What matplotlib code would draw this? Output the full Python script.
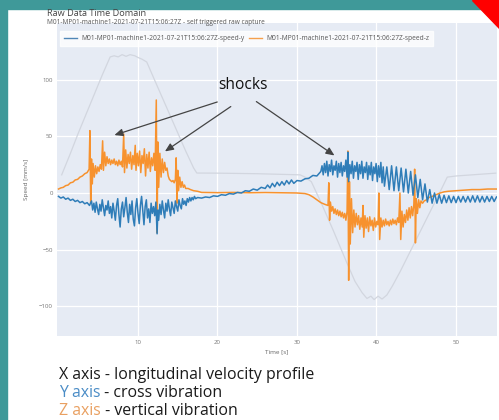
import matplotlib
matplotlib.use("Agg")
import matplotlib.pyplot as plt
from matplotlib.patches import Polygon, Rectangle
from matplotlib.lines import Line2D

# ---------------- data ----------------
x_t = [0.4, 1.5, 2.5, 3.5, 4.5, 5.5, 6.5, 7.0, 7.5, 8.0, 8.5, 9.0, 9.6, 10.0, 10.5, 11.1,
       12.0, 13.0, 14.0, 15.0, 16.0, 17.0, 17.4, 20.0, 25.0, 30.4, 31.0, 31.8, 33.0, 34.5,
       36.3, 37.3, 38.2, 38.8, 39.3, 39.7, 40.2, 40.7, 41.3, 42.0, 43.0, 44.0, 45.0, 46.0,
       47.0, 48.0, 48.9, 50.0, 52.0, 55.0]
x_v = [16, 35, 53, 70, 87, 104, 120, 121, 120, 122, 120.5, 122, 121, 119.5, 118, 115.5,
       101, 85, 69, 53, 37, 22, 17.6, 17.5, 17, 16, 14, 10, -8, -32,
       -62, -78, -88, -93, -91, -94, -91, -93.5, -90, -82, -69, -55, -41, -27,
       -13, 1, 14, 15, 16, 17.5]

y_t = [0.0, 0.3, 0.6, 0.9, 1.2, 1.5, 1.8, 2.1, 2.4, 2.7, 3.0, 3.3, 3.6, 3.9,
       4.15, 4.3, 4.45, 4.6, 4.75, 4.9, 5.05, 5.2, 5.35, 5.5, 5.65, 5.8, 5.95, 6.1, 6.25,
       6.4, 6.55, 6.7, 6.85, 7.0, 7.15, 7.3, 7.45, 7.6, 7.75, 7.9, 8.05, 8.2, 8.35, 8.5,
       8.65, 8.8, 8.95, 9.1, 9.25, 9.4, 9.55, 9.7, 9.85, 10.0, 10.15, 10.3, 10.45, 10.6,
       10.75, 10.9, 11.05, 11.2, 11.35, 11.5, 11.65, 11.8, 11.95, 12.1, 12.25, 12.4, 12.5,
       12.6, 12.75, 12.9, 13.05, 13.2, 13.35, 13.5, 13.65, 13.8, 13.95, 14.1, 14.25, 14.4,
       14.55, 14.7, 14.85, 15.0, 15.15, 15.3, 15.45, 15.6, 15.75, 15.9, 16.05, 16.2, 16.35,
       16.5, 16.65, 16.8, 16.95, 17.1, 17.25, 17.5,
       18.0, 18.5, 19.0, 19.5, 20.0, 20.5, 21.0, 21.5, 22.0, 22.5, 23.0, 23.5, 24.0, 24.5,
       25.0, 25.5, 26.0, 26.3, 26.6, 26.9, 27.2, 27.5, 27.8, 28.1, 28.4, 28.7, 29.0, 29.3,
       29.6, 30.0, 30.5, 31.0, 31.5, 32.0, 32.5,
       33.0, 33.15, 33.3, 33.45, 33.6, 33.75, 33.9, 34.05, 34.2, 34.35, 34.5, 34.65, 34.8,
       34.95, 35.1, 35.25, 35.4, 35.55, 35.7, 35.85, 36.0, 36.15, 36.3, 36.4, 36.5, 36.65,
       36.8, 36.95, 37.1, 37.25, 37.4, 37.55, 37.7, 37.85, 38.0, 38.15, 38.3, 38.45, 38.6,
       38.75, 38.9, 39.05, 39.2, 39.35, 39.5, 39.65, 39.8, 39.95, 40.1, 40.25, 40.4, 40.55,
       40.7, 40.85, 41.0, 41.3, 41.6, 41.9, 42.2, 42.5, 42.8, 43.1, 43.4, 43.7, 44.0, 44.3,
       44.6, 44.9, 45.2, 45.5, 45.8, 46.1, 46.4, 46.7, 47.0, 47.3, 47.6, 47.9, 48.2, 48.5,
       48.8, 49.1, 49.4, 49.7, 50.0, 50.3, 50.6, 50.9, 51.2, 51.5, 51.8, 52.1, 52.4, 52.7,
       53.0, 53.3, 53.6, 53.9, 54.2, 54.5, 54.8, 55.1]
y_v = [-3, -4.5, -3.5, -5.5, -4.5, -6.5, -5.5, -7.5, -6.5, -8.5, -7.5, -9.5, -8.5, -11,
       -7, -15, -9, -17, -8, -14, -19, -10, -16, -6, -13, -20, -11, -15, -7,
       -18, -12, -22, -9, -16, -24, -11, -5, -19, -30, -14, -8, -21, -13, -4,
       -17, -26, -10, -19, -7, -23, -29, -13, -5, -18, -27, -11, -3, -16,
       -28, -12, -6, -22, -14, -26, -9, -18, -12, -20, -8, -36, -15,
       -24, -10, -19, -7, -15, -22, -9, -16, -6, -14, -20, -8, -13,
       -18, -7, -12, -16, -6, -11, -14, -5, -10, -7, -11, -5, -8,
       -4, -7, -4, -6, -3, -5, -4,
       -4.5, -3.5, -4, -2.5, -3, -1.5, -2, -0.5, -1, 0.5, 0, 2, 1.5, 3.5,
       2.5, 5, 4, 7, 4.5, 8.5, 5.5, 9.5, 6.5, 10, 7, 11, 8, 11.5,
       8.5, 11, 10.5, 12.5, 13, 15.5, 15,
       19, 24, 16, 26, 18, 28, 15, 25, 19, 29, 16, 24, 20,
       28, 14, 26, 18, 27, 15, 24, 19, 29, 14, 36, 10, 25,
       17, 28, 13, 24, 19, 27, 12, 25, 17, 28, 13, 23, 18,
       27, 12, 24, 16, 27, 11, 23, 17, 26, 10, 24, 14, 27,
       9, 23, 6, 23, 3, 24, 2, 23, 2, 22, 1, 21, 0, 19,
       -2, 16, -4, 12, -6, 8, -8, 3, -9, 0, -9, -1.5, -9, -2,
       -8.5, -2.5, -8.5, -3, -8.5, -3, -8, -3, -8, -3, -8, -2.5, -8, -2.5,
       -8, -3, -8, -3, -7.5, -3, -7.5, -3.5]

z_t = [0.0, 0.3, 0.6, 0.9, 1.2, 1.5, 1.8, 2.1, 2.4, 2.7, 3.0, 3.3, 3.6, 3.85,
       3.95, 4.05, 4.15, 4.25, 4.35, 4.5, 4.65, 4.8, 4.95, 5.1, 5.25, 5.4, 5.55, 5.65, 5.8,
       5.95, 6.1, 6.25, 6.4, 6.55, 6.7, 6.85, 7.0, 7.15, 7.3, 7.45, 7.6, 7.75, 7.9, 8.05,
       8.2, 8.3, 8.45, 8.6, 8.75, 8.9, 9.05, 9.2, 9.35, 9.5, 9.65, 9.75, 9.9, 10.05, 10.2,
       10.35, 10.5, 10.65, 10.8, 10.95, 11.1, 11.25, 11.4, 11.55, 11.7, 11.85, 12.0, 12.15,
       12.3, 12.4, 12.5, 12.6, 12.75, 12.9, 13.05, 13.2, 13.35, 13.5, 13.65, 13.8, 13.95,
       14.1, 14.25, 14.4, 14.55, 14.7, 14.8, 14.9, 15.0, 15.1, 15.25, 15.4, 15.55, 15.7,
       15.85, 16.0, 16.3, 16.6, 17.0, 17.5,
       18.0, 20.0, 22.0, 24.0, 26.0, 28.0, 30.0, 31.0, 31.5, 32.0, 32.5, 33.0, 33.5, 33.9,
       34.0, 34.1, 34.2, 34.35, 34.5, 34.65, 34.8, 34.95, 35.1, 35.25, 35.4, 35.55, 35.7,
       35.85, 36.0, 36.15, 36.3, 36.4, 36.5, 36.6, 36.7, 36.85, 37.0, 37.15, 37.3, 37.45,
       37.6, 37.75, 37.9, 38.05, 38.2, 38.3, 38.4, 38.55, 38.7, 38.85, 39.0, 39.15, 39.3,
       39.45, 39.6, 39.75, 39.9, 40.05, 40.2, 40.3, 40.4, 40.55, 40.7, 40.85, 41.0, 41.15,
       41.3, 41.45, 41.6, 41.75, 41.9, 42.05, 42.2, 42.35, 42.5, 42.65, 42.8, 42.95, 43.05,
       43.2, 43.35, 43.5, 43.65, 43.8, 43.95, 44.1, 44.25, 44.4, 44.55, 44.7, 44.8, 44.9,
       45.0, 45.15, 45.3, 45.45, 45.6, 45.8, 46.0, 46.3, 46.6, 47.0, 47.5, 48.0, 48.5,
       49.0, 50.0, 51.0, 52.0, 53.0, 54.0, 55.1]
z_v = [3.5, 4.5, 5, 6.5, 7, 9, 9.5, 11.5, 12, 14, 15, 17, 18, 21,
       55, -9, 30, 8, 26, 14, 24, 17, 23, 19, 25, 21, 46, 20, 36,
       24, 32, 26, 30, 25, 29, 26, 30, 25, 28, 24, 29, 25, 28, 23,
       52, 18, 38, 22, 34, 26, 36, 21, 33, 25, 42, 20, 35, 24, 37,
       18, 33, 26, 39, 15, 34, 22, 36, 19, 31, 24, 35, 20,
       82, -35, 45, 5, 35, 14, 30, 18, 27, 20, 22, 15, 12,
       11, 10, 11, 9, 12, 31, -9, 20, 2, 14, 5, 10, 5,
       7, 4, 4, 3, 2, 1.5,
       0.5, 0.3, 0.5, 0.2, 0.4, 0.2, 0, -0.5, -1.5, -3.5, -6, -8.5, -10, -11,
       9, -24, -8, -16, -12, -18, -14, -19, -15, -20, -16, -21, -17,
       -22, -18, -24, -16, 37, -77, 10, -45, -5, -35, -15, -30, -18,
       -28, -20, -32, -22, -30, -11, -39, -20, -31, -22, -34, -21, -29,
       -24, -33, -22, -30, -25, -28, 0, -41, -22, -30, -24, -29, -23,
       -28, -25, -29, -24, -28, -23, -27, -24, -28, -22, -26, 0, -41,
       -16, -30, -19, -26, -15, -24, -13, -22, -12, -20, -10, 21, -44,
       -5, -18, -6, -13, -7, -9, -7, -6, -4, -3, -1.5, 0, 1,
       1.5, 2, 2.5, 3, 3, 3.5, 3.5]

y_ticks = [-100, -50, 0, 50, 100]
x_ticks = [10, 20, 30, 40, 50]
series_names = ["M01-MP01-machine1-2021-07-21T15:06:27Z-speed-y",
                "M01-MP01-machine1-2021-07-21T15:06:27Z-speed-z"]

# ---------------- figure ----------------
W, H = 499, 420
fig = plt.figure(figsize=(W / 100, H / 100), dpi=100)
fig.patch.set_facecolor("white")
FONT = "Open Sans"

# decorative slide frame
teal = "#3f9999"
fig.add_artist(Rectangle((0, 0), 7 / W, 1, transform=fig.transFigure, color=teal, zorder=0))
fig.add_artist(Rectangle((0, 1 - 9 / H), 1, 9 / H, transform=fig.transFigure, color=teal, zorder=0))
fig.add_artist(Polygon([(472 / W, 1), (1, 1), (1, 1 - 28 / H)], closed=True,
                       transform=fig.transFigure, color="#ff0000", zorder=5))

ax = fig.add_axes([57 / W, (H - 336) / H, 440 / W, 313 / H])
ax.set_facecolor("#e6ebf4")
for s in ax.spines.values():
    s.set_visible(False)
ax.set_xlim(-0.19, 55.16)
ax.set_ylim(-126.1, 149.9)
ax.set_xticks(x_ticks)
ax.set_yticks(y_ticks)
ax.grid(True, color="white", lw=0.9)
ax.set_axisbelow(True)
ax.tick_params(length=0, labelsize=4.4, labelcolor="#777777", pad=3)
for lab in ax.get_xticklabels() + ax.get_yticklabels():
    lab.set_fontfamily(FONT)
ax.set_xlabel("Time [s]", fontsize=4.6, color="#666666", family=FONT, labelpad=3)
ax.set_ylabel("Speed [mm/s]", fontsize=4.6, color="#666666", family=FONT, labelpad=7)

ax.plot(x_t, x_v, color="#d2d6df", lw=0.9, zorder=2)
blue = "#2f7db8"
orange = "#f7922e"
ax.plot(z_t, z_v, color=orange, lw=1.1, zorder=3)
ax.plot(y_t, y_v, color=blue, lw=1.1, zorder=4)

# annotations
ax.text(23.2, 95.5, "shocks", fontsize=11.2, family=FONT, color="#111111",
        ha="center", va="center", zorder=6)
arr = dict(arrowstyle="-|>,head_length=0.5,head_width=0.22", color="#444444", lw=0.9)
ax.annotate("", xy=(6.7, 50.3), xytext=(20.3, 81), arrowprops=arr, zorder=6)
ax.annotate("", xy=(13.1, 35.3), xytext=(21.96, 77.6), arrowprops=arr, zorder=6)
ax.annotate("", xy=(35.0, 31.7), xytext=(24.6, 82), arrowprops=arr, zorder=6)

# legend
handles = [Line2D([], [], color="#4f86b6", lw=1.0), Line2D([], [], color="#f5a04c", lw=1.0)]
leg = fig.legend(handles, series_names, loc="upper left",
                 bbox_to_anchor=(57 / W, 1 - 28 / H), ncol=2,
                 frameon=True, fancybox=False, handlelength=2.0, handletextpad=0.6,
                 columnspacing=0.7, borderpad=0.55, prop={"family": FONT, "size": 4.75})
leg.get_frame().set_facecolor("white")
leg.get_frame().set_edgecolor("white")
for t in leg.get_texts():
    t.set_color("#555555")

# titles
fig.text(47 / W, 1 - 14 / H, "Raw Data Time Domain", fontsize=6.6, color="#444444",
         family=FONT, va="center", ha="left")
fig.text(47 / W, 1 - 22 / H,
         "M01-MP01-machine1-2021-07-21T15:06:27Z - self triggered raw capture",
         fontsize=4.7, color="#555555", family=FONT, va="center", ha="left")

# bottom description lines with coloured parts
renderer = fig.canvas.get_renderer()
def colored_line(x_px, y_px, parts):
    x = x_px / W
    for txt, col in parts:
        t = fig.text(x, 1 - y_px / H, txt, fontsize=11.4, color=col, family=FONT,
                     va="center", ha="left")
        bb = t.get_window_extent(renderer=renderer)
        x = bb.x1 / W

colored_line(59, 375, [("X axis - longitudinal velocity profile", "#1a1a1a")])
colored_line(59, 393, [("Y axis", "#4a8cc6"), (" - cross vibration", "#1a1a1a")])
colored_line(59, 411, [("Z axis", "#e9a061"), (" - vertical vibration", "#1a1a1a")])

fig.savefig("out.png", dpi=100)
